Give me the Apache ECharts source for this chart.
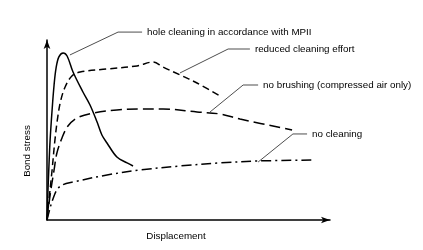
<!DOCTYPE html>
<html><head><meta charset="utf-8">
<script src="https://cdn.jsdelivr.net/npm/echarts@6/dist/echarts.min.js"></script>
<style>html,body{margin:0;padding:0;background:#fff}#c{width:423px;height:250px}</style>
</head><body><div id="c"></div>
<script>
// Displacement (arbitrary units 0-100) vs bond stress (arbitrary units 0-100)
const mpii = [[0,0],[0.35,16.7],[0.7,30.6],[1.1,44.4],[1.8,61.1],[2.5,75],[3.2,84.4],[4.2,90.6],[5.7,92.8],[7.1,91.1],[9.2,82.2],[12.7,71.1],[15.2,63.9],[17.7,54.4],[19.4,47.2],[21.2,42.8],[24.7,35],[28.3,31.7],[30.4,30]];
const reduced = [[0,0],[0.7,11.1],[1.8,27.8],[2.8,44.4],[3.9,58.3],[4.9,66.7],[6.4,73.9],[8.8,80],[11.7,82.2],[21.2,83.9],[31.8,85.6],[37.5,87.8],[41,85],[47,80.6],[53,76.1],[61.8,68.3]];
const noBrushing = [[0,0],[1.1,13.9],[2.5,27.8],[3.5,37.2],[5.3,45.6],[7.4,52.2],[10.6,56.7],[16.3,59.4],[24.7,61.1],[32.9,61.7],[41,61.7],[53,60],[61.1,58.9],[68.2,56.1],[86.6,50]];
const noCleaning = [[0,0],[1.1,6.7],[2.1,11.7],[3.5,16.7],[5.3,19.4],[9.2,21.1],[21.2,25],[32.9,27.8],[47,30],[61.1,31.7],[74.6,32.8],[93.6,33.3]];

const seriesNames = ['hole cleaning in accordance with MPII','reduced cleaning effort','no brushing (compressed air only)','no cleaning'];
// leader lines: anchor on curve, elbow, end of horizontal (data units)
const leaders = [
  {anchor:[8.1,91.7], elbow:[25.1,104.4], end:[33.6,104.4]},
  {anchor:[47,81.7], elbow:[64,95], end:[71.7,95]},
  {anchor:[57.6,60], elbow:[69.3,75], end:[74.6,75]},
  {anchor:[74.6,32.2], elbow:[86.9,47.8], end:[91.9,47.8]}
];
const xName = 'Displacement', yName = 'Bond stress';

const chart = echarts.init(document.getElementById('c'), null, {renderer:'canvas'});
const font = 'Liberation Sans, Arial, Helvetica, sans-serif';
const dashTypes = ['solid',[7,4],[11,5],[10,4,2,4]];
const datas = [mpii, reduced, noBrushing, noCleaning];
const axisCommon = {
  type:'value', min:0, max:100,
  axisLine:{show:true, lineStyle:{color:'#000', width:1.5}, symbol:['none','arrow'], symbolSize:[5,9]},
  axisTick:{show:false}, axisLabel:{show:false}, splitLine:{show:false}
};
chart.setOption({
  animation:false,
  grid:{left:47, right:93, top:40, bottom:30},
  xAxis:Object.assign({}, axisCommon),
  yAxis:Object.assign({}, axisCommon),
  series: datas.map((d,i)=>({
    name: seriesNames[i], type:'line', data:d, smooth:0.35, symbol:'none',
    lineStyle:{color:'#000', width:1.5, type:dashTypes[i]}
  }))
});

function px(p){ return chart.convertToPixel({gridIndex:0}, p); }
const g = [];
leaders.forEach((l,i)=>{
  const a = px(l.anchor), e = px(l.elbow), n = px(l.end);
  g.push({type:'polyline', shape:{points:[a,e,n]}, style:{stroke:'#000', lineWidth:0.7, fill:null}, silent:true});
  g.push({type:'text', x:n[0]+5, y:n[1], style:{text:seriesNames[i], font:'9.8px '+font, fill:'#000', verticalAlign:'middle', align:'left'}});
});
g.push({type:'text', x:176, y:236, style:{text:xName, font:'9.8px '+font, fill:'#000', align:'center', verticalAlign:'middle'}});
g.push({type:'text', x:27, y:151, rotation:Math.PI/2, style:{text:yName, font:'9.8px '+font, fill:'#000', align:'center', verticalAlign:'middle'}});
chart.setOption({graphic:g});
</script></body></html>
